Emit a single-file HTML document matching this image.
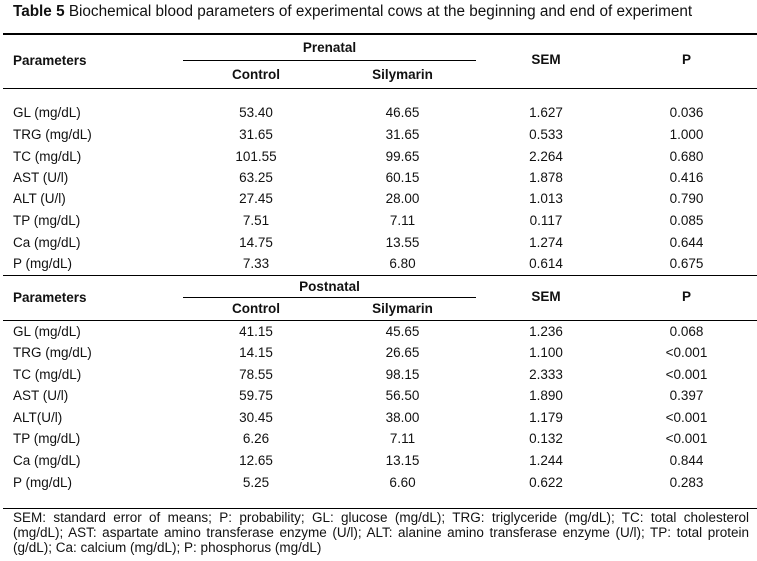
<!DOCTYPE html>
<html>
<head>
<meta charset="utf-8">
<style>
html,body{margin:0;padding:0;background:#fff;}
body{width:757px;height:561px;position:relative;overflow:hidden;font-family:"Liberation Sans",Arial,sans-serif;color:#111;}
.t{position:absolute;font-size:13.5px;line-height:16px;height:16px;white-space:nowrap;}
.c{text-align:center;}
.b{font-weight:bold;}
.ln{position:absolute;height:1.5px;background:#000;}
.fn{position:absolute;left:13px;width:736px;font-size:13.5px;line-height:15px;height:15px;white-space:nowrap;}
.j{text-align:justify;text-align-last:justify;}
</style>
</head>
<body>
<div class="t" style="left:13px;top:3px;font-size:15.3px;line-height:18px;height:18px;"><b>Table 5</b> Biochemical blood parameters of experimental cows at the beginning and end of experiment</div>

<!-- Prenatal header -->
<div class="ln" style="left:3px;width:754px;top:33px;"></div>
<div class="t b c" style="left:183px;width:293px;top:40px;">Prenatal</div>
<div class="ln" style="left:183px;width:293px;top:59.5px;"></div>
<div class="t b" style="left:13px;top:53px;">Parameters</div>
<div class="t b c" style="left:183px;width:146px;top:67px;">Control</div>
<div class="t b c" style="left:329px;width:147px;top:67px;">Silymarin</div>
<div class="t b c" style="left:476px;width:140px;top:52px;">SEM</div>
<div class="t b c" style="left:616px;width:141px;top:52px;">P</div>
<div class="ln" style="left:3px;width:754px;top:87.5px;"></div>

<!-- Prenatal rows -->
<div class="t" style="left:13px;top:105px;">GL (mg/dL)</div>
<div class="t c" style="left:183px;width:146px;top:105px;">53.40</div>
<div class="t c" style="left:329px;width:147px;top:105px;">46.65</div>
<div class="t c" style="left:476px;width:140px;top:105px;">1.627</div>
<div class="t c" style="left:616px;width:141px;top:105px;">0.036</div>

<div class="t" style="left:13px;top:127px;">TRG (mg/dL)</div>
<div class="t c" style="left:183px;width:146px;top:127px;">31.65</div>
<div class="t c" style="left:329px;width:147px;top:127px;">31.65</div>
<div class="t c" style="left:476px;width:140px;top:127px;">0.533</div>
<div class="t c" style="left:616px;width:141px;top:127px;">1.000</div>

<div class="t" style="left:13px;top:149px;">TC (mg/dL)</div>
<div class="t c" style="left:183px;width:146px;top:149px;">101.55</div>
<div class="t c" style="left:329px;width:147px;top:149px;">99.65</div>
<div class="t c" style="left:476px;width:140px;top:149px;">2.264</div>
<div class="t c" style="left:616px;width:141px;top:149px;">0.680</div>

<div class="t" style="left:13px;top:170px;">AST (U/l)</div>
<div class="t c" style="left:183px;width:146px;top:170px;">63.25</div>
<div class="t c" style="left:329px;width:147px;top:170px;">60.15</div>
<div class="t c" style="left:476px;width:140px;top:170px;">1.878</div>
<div class="t c" style="left:616px;width:141px;top:170px;">0.416</div>

<div class="t" style="left:13px;top:191px;">ALT (U/l)</div>
<div class="t c" style="left:183px;width:146px;top:191px;">27.45</div>
<div class="t c" style="left:329px;width:147px;top:191px;">28.00</div>
<div class="t c" style="left:476px;width:140px;top:191px;">1.013</div>
<div class="t c" style="left:616px;width:141px;top:191px;">0.790</div>

<div class="t" style="left:13px;top:213px;">TP (mg/dL)</div>
<div class="t c" style="left:183px;width:146px;top:213px;">7.51</div>
<div class="t c" style="left:329px;width:147px;top:213px;">7.11</div>
<div class="t c" style="left:476px;width:140px;top:213px;">0.117</div>
<div class="t c" style="left:616px;width:141px;top:213px;">0.085</div>

<div class="t" style="left:13px;top:235px;">Ca (mg/dL)</div>
<div class="t c" style="left:183px;width:146px;top:235px;">14.75</div>
<div class="t c" style="left:329px;width:147px;top:235px;">13.55</div>
<div class="t c" style="left:476px;width:140px;top:235px;">1.274</div>
<div class="t c" style="left:616px;width:141px;top:235px;">0.644</div>

<div class="t" style="left:13px;top:256px;">P (mg/dL)</div>
<div class="t c" style="left:183px;width:146px;top:256px;">7.33</div>
<div class="t c" style="left:329px;width:147px;top:256px;">6.80</div>
<div class="t c" style="left:476px;width:140px;top:256px;">0.614</div>
<div class="t c" style="left:616px;width:141px;top:256px;">0.675</div>

<!-- Postnatal header -->
<div class="ln" style="left:3px;width:754px;top:274.5px;"></div>
<div class="t b c" style="left:183px;width:293px;top:279px;">Postnatal</div>
<div class="ln" style="left:183px;width:293px;top:296.5px;"></div>
<div class="t b" style="left:13px;top:290px;">Parameters</div>
<div class="t b c" style="left:183px;width:146px;top:301px;">Control</div>
<div class="t b c" style="left:329px;width:147px;top:301px;">Silymarin</div>
<div class="t b c" style="left:476px;width:140px;top:289px;">SEM</div>
<div class="t b c" style="left:616px;width:141px;top:289px;">P</div>
<div class="ln" style="left:3px;width:754px;top:319.5px;"></div>

<!-- Postnatal rows -->
<div class="t" style="left:13px;top:324px;">GL (mg/dL)</div>
<div class="t c" style="left:183px;width:146px;top:324px;">41.15</div>
<div class="t c" style="left:329px;width:147px;top:324px;">45.65</div>
<div class="t c" style="left:476px;width:140px;top:324px;">1.236</div>
<div class="t c" style="left:616px;width:141px;top:324px;">0.068</div>

<div class="t" style="left:13px;top:345px;">TRG (mg/dL)</div>
<div class="t c" style="left:183px;width:146px;top:345px;">14.15</div>
<div class="t c" style="left:329px;width:147px;top:345px;">26.65</div>
<div class="t c" style="left:476px;width:140px;top:345px;">1.100</div>
<div class="t c" style="left:616px;width:141px;top:345px;">&lt;0.001</div>

<div class="t" style="left:13px;top:367px;">TC (mg/dL)</div>
<div class="t c" style="left:183px;width:146px;top:367px;">78.55</div>
<div class="t c" style="left:329px;width:147px;top:367px;">98.15</div>
<div class="t c" style="left:476px;width:140px;top:367px;">2.333</div>
<div class="t c" style="left:616px;width:141px;top:367px;">&lt;0.001</div>

<div class="t" style="left:13px;top:388px;">AST (U/l)</div>
<div class="t c" style="left:183px;width:146px;top:388px;">59.75</div>
<div class="t c" style="left:329px;width:147px;top:388px;">56.50</div>
<div class="t c" style="left:476px;width:140px;top:388px;">1.890</div>
<div class="t c" style="left:616px;width:141px;top:388px;">0.397</div>

<div class="t" style="left:13px;top:410px;">ALT(U/l)</div>
<div class="t c" style="left:183px;width:146px;top:410px;">30.45</div>
<div class="t c" style="left:329px;width:147px;top:410px;">38.00</div>
<div class="t c" style="left:476px;width:140px;top:410px;">1.179</div>
<div class="t c" style="left:616px;width:141px;top:410px;">&lt;0.001</div>

<div class="t" style="left:13px;top:431px;">TP (mg/dL)</div>
<div class="t c" style="left:183px;width:146px;top:431px;">6.26</div>
<div class="t c" style="left:329px;width:147px;top:431px;">7.11</div>
<div class="t c" style="left:476px;width:140px;top:431px;">0.132</div>
<div class="t c" style="left:616px;width:141px;top:431px;">&lt;0.001</div>

<div class="t" style="left:13px;top:453px;">Ca (mg/dL)</div>
<div class="t c" style="left:183px;width:146px;top:453px;">12.65</div>
<div class="t c" style="left:329px;width:147px;top:453px;">13.15</div>
<div class="t c" style="left:476px;width:140px;top:453px;">1.244</div>
<div class="t c" style="left:616px;width:141px;top:453px;">0.844</div>

<div class="t" style="left:13px;top:475px;">P (mg/dL)</div>
<div class="t c" style="left:183px;width:146px;top:475px;">5.25</div>
<div class="t c" style="left:329px;width:147px;top:475px;">6.60</div>
<div class="t c" style="left:476px;width:140px;top:475px;">0.622</div>
<div class="t c" style="left:616px;width:141px;top:475px;">0.283</div>

<div class="ln" style="left:3px;width:754px;top:507.5px;"></div>

<!-- Footnote -->
<div class="fn j" style="top:509.5px;">SEM: standard error of means; P: probability; GL: glucose (mg/dL); TRG: triglyceride (mg/dL); TC: total cholesterol</div>
<div class="fn j" style="top:524.5px;">(mg/dL); AST: aspartate amino transferase enzyme (U/l); ALT: alanine amino transferase enzyme (U/l); TP: total protein</div>
<div class="fn" style="top:539.5px;">(g/dL); Ca: calcium (mg/dL); P: phosphorus (mg/dL)</div>
</body>
</html>
